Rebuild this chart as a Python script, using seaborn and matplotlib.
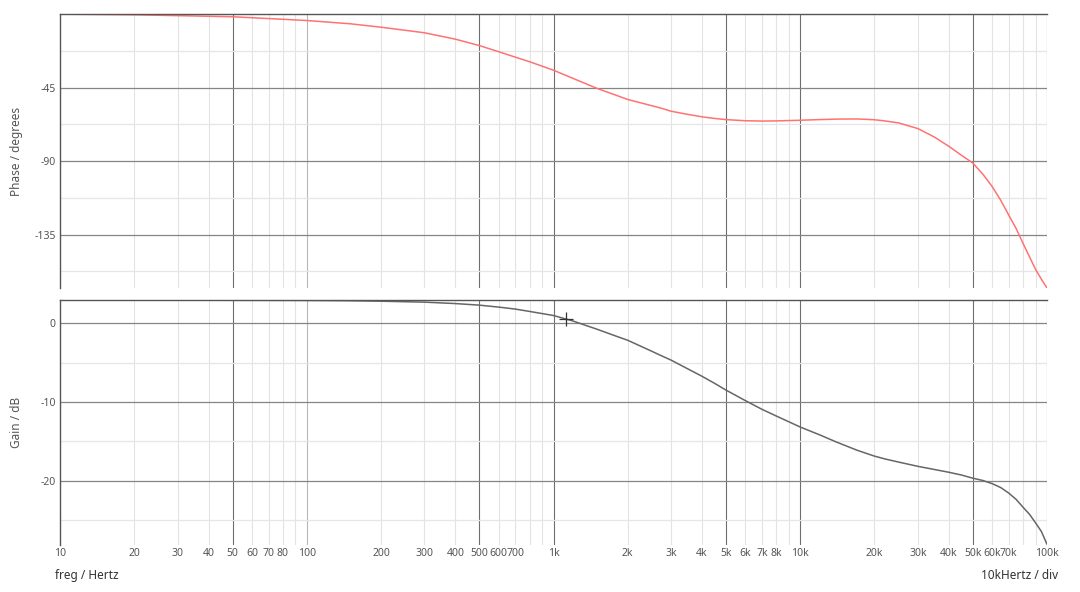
import numpy as np
import pandas as pd
import matplotlib
matplotlib.use("Agg")
import matplotlib.pyplot as plt
import seaborn as sns

# frequencies (Hz)
freq = [10, 20, 50, 100, 150, 200, 300, 400, 500, 600, 700, 800, 1000, 1200,
        1500, 1800, 2000, 2500, 2700, 3000, 3500, 4000, 4500, 5000, 6000, 7000,
        8000, 10000, 12000, 14000, 17000, 20000, 22000, 25000, 30000, 35000,
        40000, 45000, 50000, 55000, 60000, 65000, 70000, 75000, 80000, 85000,
        90000, 95000, 100000]

# phase in degrees
phase = [-0.1, -0.5, -1.7, -4.0, -6.0, -8.1, -11.5, -15.4, -19.3, -23.1, -26.4,
         -29.2, -34.4, -39.4, -45.5, -49.8, -52.3, -56.1, -57.4, -59.5, -61.4,
         -62.9, -63.9, -64.6, -65.3, -65.5, -65.4, -65.0, -64.6, -64.3, -64.2,
         -64.7, -65.4, -66.6, -70.1, -75.3, -80.9, -86.4, -91.1, -98.0, -105.6,
         -114.0, -123.0, -131.2, -140.3, -148.6, -156.3, -162.3, -167.6]

# gain in dB
gain = [2.93, 2.93, 2.92, 2.9, 2.86, 2.8, 2.68, 2.5, 2.3, 2.05, 1.8, 1.5, 0.98,
        0.28, -0.76, -1.66, -2.17, -3.56, -4.05, -4.7, -5.8, -6.75, -7.65, -8.5,
        -9.85, -10.95, -11.8, -13.2, -14.2, -15.1, -16.15, -16.9, -17.25, -17.65,
        -18.2, -18.6, -18.95, -19.3, -19.7, -20.0, -20.4, -20.9, -21.6, -22.4,
        -23.4, -24.3, -25.4, -26.5, -28.1]

# cursor marker
cursor_f = [1124]
cursor_g = [0.5]

# x grid positions and their labels
grid_f = [m * 10 ** e for e in range(1, 5) for m in range(1, 10)] + [100000]
grid_lab = ["10", "20", "30", "40", "50", "60", "70", "80", "",
            "100", "200", "300", "400", "500", "600", "700", "", "",
            "1k", "2k", "3k", "4k", "5k", "6k", "7k", "8k", "",
            "10k", "20k", "30k", "40k", "50k", "60k", "70k", "", "",
            "100k"]
dark_f = [50, 500, 1000, 5000, 10000, 50000, 100000]
mid_f = [100]

df = pd.DataFrame({"freq": freq, "phase": phase, "gain": gain})

sns.set_theme(style="white")
plt.rcParams["font.family"] = ["Noto Sans", "DejaVu Sans"]

fig = plt.figure(figsize=(10.8, 5.92), dpi=100)
ax1 = fig.add_axes([0.0556, 0.5135, 0.9138, 0.4629])
ax2 = fig.add_axes([0.0556, 0.0794, 0.9138, 0.4138])

sns.lineplot(data=df, x="freq", y="phase", ax=ax1, color="#ff7272", lw=1.1)
sns.lineplot(data=df, x="freq", y="gain", ax=ax2, color="#666666", lw=1.1)
ax2.scatter(cursor_f, cursor_g, marker="+", s=90, color="#333333", lw=0.9, zorder=5)


def style(ax, ymaj, ymin, ylim, ylabel, show_x):
    ax.set_xscale("log")
    ax.set_xlim(10, 100000)
    ax.set_ylim(*ylim)
    ax.set_xticks(grid_f)
    ax.set_xticks([], minor=True)
    if show_x:
        ax.set_xticklabels(grid_lab)
    else:
        ax.set_xticklabels([])
    ax.set_yticks(ymaj)
    ax.set_yticks(ymin, minor=True)
    ax.set_yticklabels([str(v) for v in ymaj])
    ax.tick_params(axis="both", which="both", length=0, labelsize=7.5,
                   labelcolor="#555555", pad=3)
    ax.tick_params(axis="x", pad=2)
    ax.grid(True, axis="x", which="major", lw=0.8)
    for f, gl in zip(grid_f, ax.get_xgridlines()):
        if f in dark_f:
            gl.set_color("#6e6e6e")
        elif f in mid_f:
            gl.set_color("#b8b8b8")
        else:
            gl.set_color("#e3e3e3")
    ax.grid(True, axis="y", which="major", color="#858585", lw=0.9)
    ax.grid(True, axis="y", which="minor", color="#e6e6e6", lw=0.9)
    ax.set_axisbelow(True)
    for s in ["right", "bottom"]:
        ax.spines[s].set_visible(False)
    for s in ["left", "top"]:
        ax.spines[s].set_color("#555555")
        ax.spines[s].set_linewidth(1.0)
    ax.set_xlabel("")
    ax.set_ylabel(ylabel, fontsize=8.5, color="#555555")


style(ax1, [-45, -90, -135], [-22.5, -67.5, -112.5, -157.5], (-167.6, 0),
      "Phase / degrees", False)
style(ax2, [0, -10, -20], [-5, -15, -25], (-28.2, 2.95), "Gain / dB", True)

ax1.yaxis.set_label_coords(-0.038, 0.5)
ax2.yaxis.set_label_coords(-0.038, 0.5)

fig.text(0.051, 0.022, "freg / Hertz", fontsize=8.5, color="#333333")
fig.text(0.98, 0.022, "10kHertz / div", fontsize=8.5, color="#333333", ha="right")

fig.savefig("out.png", dpi=100, facecolor="white")
